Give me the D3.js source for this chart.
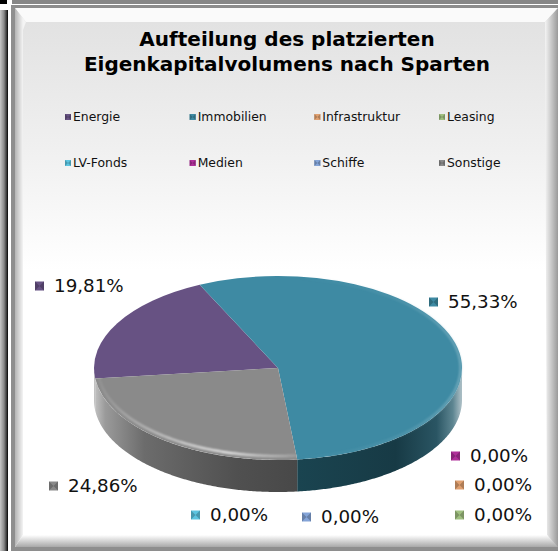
<!DOCTYPE html>
<html>
<head>
<meta charset="utf-8">
<script src="https://cdn.jsdelivr.net/npm/d3@7"></script>
<style>
  html, body { margin: 0; padding: 0; background: #fff; overflow: hidden; }
  svg { display: block; }
</style>
</head>
<body>
<div id="chart"></div>
<script>
const titleLines = ["Aufteilung des platzierten", "Eigenkapitalvolumens nach Sparten"];
const categories = ["Energie", "Immobilien", "Infrastruktur", "Leasing", "LV-Fonds", "Medien", "Schiffe", "Sonstige"];
const shares = [19.81, 55.33, 0, 0, 0, 0, 0, 24.86];

// colours per category
const topColors = ["#675283", "#3e8aa3", "#e0a070", "#a0c080", "#5cc4e0", "#b0309a", "#84a4d8", "#8a8a8a"];

// where the data labels sit, same order as categories (marker left edge, centre y)
const labelX = [35, 429, 455, 455, 191, 451, 302, 49];
const labelY = [286, 302, 485, 515, 515, 456, 517, 486];

const WIDTH = 558;
const HEIGHT = 551;

const svg = d3.select("#chart").append("svg")
    .attr("width", WIDTH)
    .attr("height", HEIGHT);

const defs = svg.append("defs");

function addGradient(id, x1, y1, x2, y2, stops) {
    const g = defs.append("linearGradient")
        .attr("id", id)
        .attr("gradientUnits", "userSpaceOnUse")
        .attr("x1", x1).attr("y1", y1).attr("x2", x2).attr("y2", y2);
    stops.forEach(s => g.append("stop")
        .attr("offset", s[0])
        .attr("stop-color", s[1])
        .attr("stop-opacity", s[2] === undefined ? 1 : s[2]));
}

addGradient("panelBg", 0, 22, 0, 270, [[0, "#e2e2e2"], [0.55, "#f1f1f1"], [1, "#ffffff"]]);
addGradient("outerLeft", 0, 0, 8, 0, [[0, "#c8c8c8"], [0.5, "#8a8a8a"], [0.85, "#333"], [1, "#000"]]);
addGradient("bevelLeft", 15, 0, 23, 0, [[0, "#b4b4b4"], [1, "#f4f4f4"]]);
addGradient("bevelRight", 545, 0, 558, 0, [[0, "#f4f4f4"], [1, "#9a9a9a"]]);
addGradient("bevelBottom", 0, 535, 0, 547, [[0, "#ffffff"], [1, "#a8a8a8"]]);
addGradient("wallGrey", 93, 0, 298, 0, [[0, "#c8c8c8"], [0.06, "#9a9a9a"], [0.25, "#6c6c6c"], [0.7, "#505050"], [1, "#484848"]]);
addGradient("wallTeal", 298, 0, 461, 0, [[0, "#1a4450"], [0.6, "#173a45"], [0.85, "#2a5563"], [0.95, "#5d8591"], [1, "#a8bcc3"]]);
addGradient("rimGrey", 100, 0, 296, 0, [[0, "#f4f4f4", 0.1], [0.3, "#f4f4f4", 0.6], [0.65, "#f8f8f8", 1], [1, "#f4f4f4", 0.25]]);
addGradient("rimTeal", 298, 0, 461, 0, [[0, "#6fa9bb", 0], [0.6, "#6fa9bb", 0.35], [1, "#8fbccb", 0.7]]);

defs.append("filter").attr("id", "soft")
    .attr("x", "-10%").attr("y", "-10%").attr("width", "120%").attr("height", "120%")
    .append("feGaussianBlur").attr("stdDeviation", 0.9);

// page frame
svg.append("rect").attr("width", WIDTH).attr("height", HEIGHT).attr("fill", "#fff");
svg.append("rect").attr("x", 0).attr("y", 10).attr("width", 8).attr("height", HEIGHT - 10).attr("fill", "url(#outerLeft)");
svg.append("rect").attr("x", 0).attr("y", 0).attr("width", 7).attr("height", 4).attr("fill", "#000");
svg.append("rect").attr("x", 12).attr("y", 0).attr("width", WIDTH - 12).attr("height", 4).attr("fill", "#868686");
svg.append("rect").attr("x", 11).attr("y", 5).attr("width", WIDTH - 11).attr("height", 3).attr("fill", "#8c8c8c");
svg.append("rect").attr("x", 11).attr("y", 5).attr("width", 4).attr("height", HEIGHT - 5).attr("fill", "#8e8e8e");

// panel and its bevel
svg.append("rect").attr("x", 15).attr("y", 8).attr("width", WIDTH - 15).attr("height", HEIGHT - 8).attr("fill", "url(#panelBg)");
svg.append("polygon").attr("points", "15,8 558,8 545,22 26,22").attr("fill", "#fafafa");
svg.append("polygon").attr("points", "15,8 26,22 23,30 23,535 15,547").attr("fill", "url(#bevelLeft)");
svg.append("polygon").attr("points", "558,8 558,551 547,535 545,22").attr("fill", "url(#bevelRight)");
svg.append("polygon").attr("points", "15,547 23,535 547,535 558,547").attr("fill", "url(#bevelBottom)");
svg.append("rect").attr("x", 15).attr("y", 547).attr("width", WIDTH - 15).attr("height", 4).attr("fill", "#8e8e8e");

// title
svg.append("g").selectAll("text")
    .data(titleLines)
    .enter()
    .append("text")
    .attr("x", 287)
    .attr("y", (d, i) => 46 + i * 25)
    .attr("text-anchor", "middle")
    .attr("font-family", "DejaVu Sans")
    .attr("font-weight", "bold")
    .attr("font-size", 20)
    .attr("fill", "#000")
    .text(d => d);

// bow-tie marker used in legend and data labels
function addMarker(g, x, y, size, color) {
    const half = size / 2;
    g.append("rect")
        .attr("x", x).attr("y", y - half)
        .attr("width", size).attr("height", size)
        .attr("fill", color);
    const edge = d3.color(color).darker(1);
    g.append("path")
        .attr("d", `M${x},${y - half}L${x + half},${y}L${x},${y + half}Z` +
                   `M${x + size},${y - half}L${x + half},${y}L${x + size},${y + half}Z`)
        .attr("fill", edge)
        .attr("opacity", 0.75);
}

// legend, 4 columns x 2 rows
const legendX = d3.scalePoint().domain([0, 1, 2, 3]).range([65, 439]);
const legendY = d3.scalePoint().domain([0, 1]).range([117, 163]);
const legend = svg.append("g");

categories.forEach((name, i) => {
    const lx = legendX(i % 4);
    const ly = legendY(Math.floor(i / 4));
    addMarker(legend, lx, ly, 6, topColors[i]);
    legend.append("text")
        .attr("x", lx + 8)
        .attr("y", ly + 4)
        .attr("font-family", "DejaVu Sans")
        .attr("font-size", 12.4)
        .attr("fill", "#111")
        .text(name);
});

// pie: flat d3 pie squashed into an ellipse, then a wall below it
const cx = 278;
const cy = 368;
const rx = 184;
const ry = 92;
const depth = 32;

const startAngle = 263.5 * Math.PI / 180;
const pie = d3.pie().sort(null).value(d => d)
    .startAngle(startAngle)
    .endAngle(startAngle + 2 * Math.PI);
const arcs = pie(shares);

const rimPoint = (a, dy, inset = 0) => [
    cx + (rx - inset) * Math.sin(a),
    cy - (ry - inset) * Math.cos(a) + dy
];
const pathLine = d3.line();

// front wall pieces, only the part of each slice facing the viewer
const wall = svg.append("g");
arcs.forEach((d, i) => {
    if (d.value === 0) return;
    const ranges = [[d.startAngle, d.endAngle], [d.startAngle - 2 * Math.PI, d.endAngle - 2 * Math.PI]];
    ranges.forEach(r => {
        const a0 = Math.max(r[0], Math.PI / 2);
        const a1 = Math.min(r[1], 3 * Math.PI / 2);
        if (a1 <= a0) return;
        const steps = d3.range(a0, a1, 0.01).concat([a1]);
        const top = steps.map(a => rimPoint(a, 0));
        const bottom = steps.slice().reverse().map(a => rimPoint(a, depth));
        wall.append("path")
            .attr("d", pathLine(top.concat(bottom)) + "Z")
            .attr("fill", i === 1 ? "url(#wallTeal)" : "url(#wallGrey)");
    });
});

// top face
const arc = d3.arc().innerRadius(0).outerRadius(rx);
const face = svg.append("g")
    .attr("transform", `translate(${cx},${cy}) scale(1,${ry / rx})`);

face.selectAll("path.slice")
    .data(arcs.filter(d => d.value > 0))
    .enter()
    .append("path")
    .attr("class", "slice")
    .attr("d", arc)
    .attr("fill", d => topColors[d.index]);

// rim highlights on the grey and teal slices
const sonstige = arcs[7];
const immobilien = arcs[1];

const greySteps = d3.range(sonstige.startAngle, sonstige.endAngle, 0.01);
svg.append("path")
    .attr("d", pathLine(greySteps.map(a => rimPoint(a, 0, 4))))
    .attr("fill", "none")
    .attr("stroke", "url(#rimGrey)")
    .attr("stroke-width", 2)
    .attr("filter", "url(#soft)");

const tealSteps = d3.range(Math.PI / 2, immobilien.endAngle, 0.01);
svg.append("path")
    .attr("d", pathLine(tealSteps.map(a => rimPoint(a, 0, 1.5))))
    .attr("fill", "none")
    .attr("stroke", "url(#rimTeal)")
    .attr("stroke-width", 2)
    .attr("filter", "url(#soft)");

// data labels
const labels = svg.append("g");
const fmt = d3.format(".2f");

categories.forEach((name, i) => {
    addMarker(labels, labelX[i], labelY[i], 9, topColors[i]);
    labels.append("text")
        .attr("x", labelX[i] + 19)
        .attr("y", labelY[i] + 6)
        .attr("font-family", "DejaVu Sans")
        .attr("font-size", 18.3)
        .attr("fill", "#111")
        .text(fmt(shares[i]).replace(".", ",") + "%");
});
</script>
</body>
</html>
